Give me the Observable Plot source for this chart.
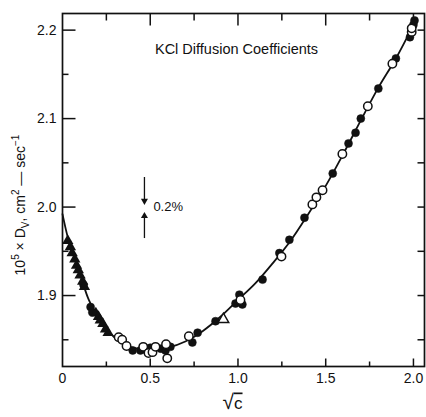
<!DOCTYPE html>
<html>
<head>
<meta charset="utf-8">
<script src="https://cdn.jsdelivr.net/npm/d3@7"></script>
<script src="https://cdn.jsdelivr.net/npm/@observablehq/plot@0.6"></script>
<style>
  html, body { margin: 0; padding: 0; background: #fff; }
  #chart svg { display: block; }
</style>
</head>
<body>
<div id="chart"></div>
<script>
// ---------- data ----------
const titleText = "KCl Diffusion Coefficients";
const yLabelText = "10⁵ × DV, cm² — sec⁻¹";
const xLabelText = "√c";
const noteText = "0.2%";

const xTickLabels = [0, 0.5, 1.0, 1.5, 2.0];
const yTickLabels = [1.9, 2.0, 2.1, 2.2];
const xTicksMajor = [0.5, 1.0, 1.5, 2.0];
const xTicksMinor = [0.25, 0.75, 1.25, 1.75];
const yTicksMajor = [1.9, 2.0, 2.1, 2.2];
const yTicksMinor = [1.85, 1.95, 2.05, 2.15];

// fitted curve
const curveX = [0, 0.03, 0.06, 0.1, 0.15, 0.2, 0.25, 0.3, 0.35, 0.4, 0.5, 0.6, 0.7, 0.8, 0.9, 1.0, 1.1, 1.2, 1.3, 1.4, 1.5, 1.6, 1.7, 1.8, 1.9, 2.0];
const curveY = [1.992, 1.966, 1.947, 1.924, 1.895, 1.876, 1.862, 1.852, 1.845, 1.841, 1.839, 1.841, 1.848, 1.860, 1.876, 1.895, 1.914, 1.937, 1.962, 1.992, 2.024, 2.060, 2.098, 2.135, 2.168, 2.206];

// filled triangles
const filledTriX = [0.03, 0.045, 0.055, 0.07, 0.08, 0.09, 0.10, 0.115, 0.125, 0.19, 0.205, 0.215, 0.23, 0.245, 0.26];
const filledTriY = [1.962, 1.955, 1.948, 1.941, 1.934, 1.929, 1.923, 1.916, 1.910, 1.880, 1.876, 1.872, 1.868, 1.862, 1.858];

// filled circles
const filledCircX = [0.12, 0.16, 0.17, 0.40, 0.444, 0.48, 0.50, 0.56, 0.587, 0.615, 0.74, 0.77, 0.872, 0.986, 1.025, 1.008, 1.14, 1.236, 1.293, 1.379, 1.54, 1.63, 1.67, 1.70, 1.80, 1.90, 1.98, 2.0, 2.006];
const filledCircY = [1.912, 1.887, 1.881, 1.838, 1.838, 1.838, 1.841, 1.840, 1.838, 1.842, 1.847, 1.858, 1.871, 1.891, 1.890, 1.901, 1.918, 1.948, 1.963, 1.988, 2.038, 2.072, 2.084, 2.100, 2.134, 2.168, 2.192, 2.206, 2.211];

// open circles
const openCircX = [0.32, 0.34, 0.365, 0.46, 0.49, 0.513, 0.53, 0.59, 0.597, 0.72, 1.014, 1.248, 1.424, 1.447, 1.482, 1.595, 1.74, 1.88, 1.99, 1.99];
const openCircY = [1.853, 1.850, 1.843, 1.842, 1.835, 1.836, 1.842, 1.845, 1.829, 1.854, 1.895, 1.944, 2.003, 2.011, 2.019, 2.060, 2.114, 2.162, 2.198, 2.202];

// open triangles
const openTriX = [0.917];
const openTriY = [1.873];

// 0.2% error-bar annotation
const arrowX = 0.467;
const arrowDownY = [2.034, 2.007];
const arrowUpY = [1.965, 1.990];
const noteX = 0.518;
const noteY = 2.0;

// ---------- build ----------
const W = 426, H = 417, ML = 62, MR = 2, MT = 13, MB = 51;
const FW = W - ML - MR, FH = H - MT - MB;
const xDom = [0, 2.063], yDom = [1.8198, 2.2188];
// pixel lengths expressed in data units (for fixed-length tick marks)
const pxX = (p) => p * (xDom[1] - xDom[0]) / FW;
const pxY = (p) => p * (yDom[1] - yDom[0]) / FH;

const pts = (xs, ys) => xs.map((x, i) => ({x, y: ys[i]}));
const curve = pts(curveX, curveY);
const fTri = pts(filledTriX, filledTriY);
const fCirc = pts(filledCircX, filledCircY);
const oCirc = pts(openCircX, openCircY);
const oTri = pts(openTriX, openTriY);

const tk = {stroke: "#111", strokeWidth: 1.5};
const leftTicks = (vals, len) => Plot.link(vals, {x1: () => xDom[0], x2: () => xDom[0] + pxX(len), y1: d => d, y2: d => d, ...tk});
const rightTicks = (vals, len) => Plot.link(vals, {x1: () => xDom[1], x2: () => xDom[1] - pxX(len), y1: d => d, y2: d => d, ...tk});
const bottomTicks = (vals, len) => Plot.link(vals, {y1: () => yDom[0], y2: () => yDom[0] + pxY(len), x1: d => d, x2: d => d, ...tk});
const topTicks = (vals, len) => Plot.link(vals, {y1: () => yDom[1], y2: () => yDom[1] - pxY(len), x1: d => d, x2: d => d, ...tk});

const chart = Plot.plot({
  width: W,
  height: H,
  marginLeft: ML,
  marginRight: MR,
  marginTop: MT,
  marginBottom: MB,
  style: {fontFamily: "'Liberation Sans', Arial, Helvetica, sans-serif", fontSize: "13px", background: "#fff", color: "#111"},
  x: {domain: xDom},
  y: {domain: yDom},
  marks: [
    Plot.frame({stroke: "#111", strokeWidth: 1.7}),
    // tick labels
    Plot.axisX(xTickLabels, {anchor: "bottom", label: null, tickSize: 0, tickPadding: 7, fontSize: 14, tickFormat: d => d === 0 ? "0" : d.toFixed(1)}),
    Plot.axisY(yTickLabels, {anchor: "left", label: null, tickSize: 0, tickPadding: 6, fontSize: 14, tickFormat: d => d.toFixed(1)}),
    // axis labels & title
    Plot.text([yLabelText], {text: d => d, frameAnchor: "left", textAnchor: "middle", dx: -42, dy: 15, rotate: -90, fontSize: 14}),
    Plot.text([xLabelText], {text: d => d, frameAnchor: "bottom", textAnchor: "middle", dx: -11, dy: 42, fontSize: 17}),
    Plot.text([titleText], {text: d => d, frameAnchor: "top", textAnchor: "middle", dx: -7, dy: 30, fontSize: 14.5}),
    // fitted curve
    Plot.line(curve, {x: "x", y: "y", curve: "catmull-rom", stroke: "#111", strokeWidth: 1.8}),
    // data points
    Plot.dot(fCirc, {x: "x", y: "y", r: 4, fill: "#111", stroke: "#111", strokeWidth: 0.5}),
    Plot.dot(fTri, {x: "x", y: "y", symbol: "triangle", r: 4.2, fill: "#111"}),
    Plot.dot(oCirc, {x: "x", y: "y", r: 4.2, fill: "#fff", stroke: "#111", strokeWidth: 1.5}),
    Plot.dot(oTri, {x: "x", y: "y", symbol: "triangle", r: 4, fill: "#fff", stroke: "#111", strokeWidth: 1.4}),
    // 0.2% annotation
    Plot.link([0], {x1: () => arrowX, x2: () => arrowX, y1: () => arrowDownY[0], y2: () => arrowDownY[1], stroke: "#111", strokeWidth: 1.3}),
    Plot.link([0], {x1: () => arrowX, x2: () => arrowX, y1: () => arrowUpY[0], y2: () => arrowUpY[1], stroke: "#111", strokeWidth: 1.3}),
    Plot.dot([0], {x: () => arrowX, y: () => arrowDownY[1], symbol: "triangle", r: 2.6, rotate: 180, fill: "#111"}),
    Plot.dot([0], {x: () => arrowX, y: () => arrowUpY[1], symbol: "triangle", r: 2.6, fill: "#111"}),
    Plot.text([noteText], {x: () => noteX, y: () => noteY, text: d => d, textAnchor: "start", fontSize: 13}),
    // inward ticks on all four sides
    leftTicks(yTicksMajor, 13),
    leftTicks(yTicksMinor, 6),
    rightTicks(yTicksMajor.concat(yTicksMinor), 7),
    bottomTicks(xTicksMajor, 8),
    bottomTicks(xTicksMinor, 5),
    topTicks(xTicksMajor, 12),
    topTicks(xTicksMinor, 7)
  ]
});

document.getElementById("chart").appendChild(chart);

// rich text for the axis labels (superscripts / subscripts / overline)
d3.select(chart).selectAll("text").each(function() {
  const el = d3.select(this);
  const t = this.textContent;
  if (t === yLabelText) {
    el.text(null);
    const parts = [["10", 0], ["5", 1], [" × D", 0], ["V", -1], [", cm", 0], ["2", 1], [" — sec", 0], ["−1", 1]];
    let cur = 0;
    for (const [s, k] of parts) {
      const off = k === 1 ? -5.5 : k === -1 ? 4 : 0;
      el.append("tspan").attr("dy", off - cur).attr("font-size", k ? 10 : null).text(s);
      cur = off;
    }
  } else if (t === xLabelText) {
    el.text(null);
    el.append("tspan").attr("font-size", 21).text("√");
    el.append("tspan").style("text-decoration", "overline").text("c");
  }
});
</script>
</body>
</html>
